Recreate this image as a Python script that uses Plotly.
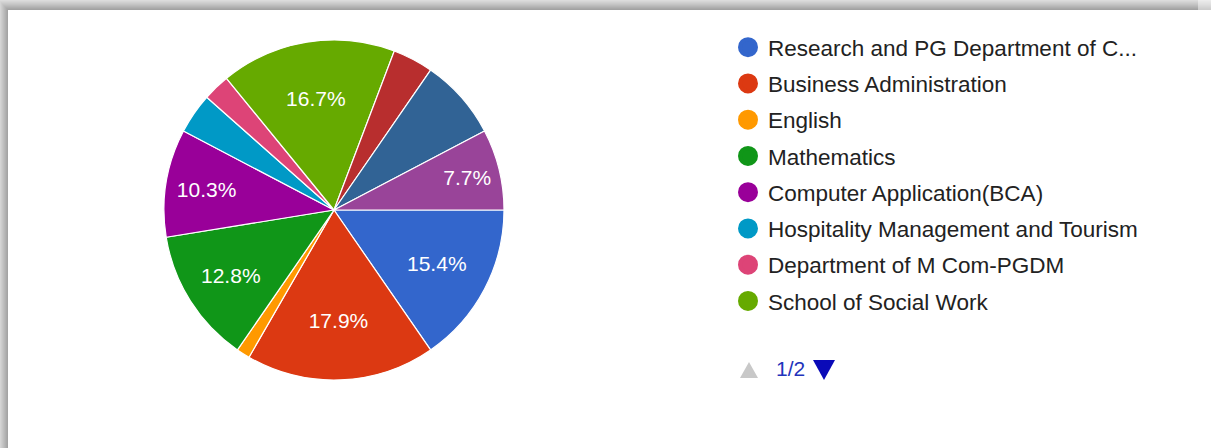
import plotly.graph_objects as go

# ---- data ----
departments = [
    "Research and PG Department of C...",
    "Business Administration",
    "English",
    "Mathematics",
    "Computer Application(BCA)",
    "Hospitality Management and Tourism",
    "Department of M Com-PGDM",
    "School of Social Work",
    "Page 2 item 9",
    "Page 2 item 10",
    "Page 2 item 11",
]
responses = [12, 14, 1, 10, 8, 3, 2, 13, 3, 6, 6]
label_shown = [True, True, False, True, True, False, False, True, False, False, True]
legend_page_count = 8
page_text = "1/2"

colors = ["#3366cc", "#dc3912", "#ff9900", "#109618", "#990099", "#0099c6",
          "#dd4477", "#66aa00", "#b82e2e", "#316395", "#994499"]

W, H = 1211, 448
FONT = "Arial, Liberation Sans, sans-serif"

total = sum(responses)
slice_text = [f"{v / total * 100:.1f}%" if s else "" for v, s in zip(responses, label_shown)]

cx, cy, r = 334, 210, 170

fig = go.Figure()
fig.add_trace(go.Pie(
    labels=departments,
    values=responses,
    text=slice_text,
    textinfo="text",
    textposition="inside",
    insidetextorientation="horizontal",
    textfont=dict(family=FONT, size=21, color="white"),
    marker=dict(colors=colors, line=dict(color="white", width=1.2)),
    sort=False,
    direction="clockwise",
    rotation=90,
    showlegend=False,
    domain=dict(x=[(cx - r) / W, (cx + r) / W],
                y=[(H - cy - r) / H, (H - cy + r) / H]),
))

for i in range(legend_page_count):
    fig.add_trace(go.Scatter(
        x=[None], y=[None], mode="markers", name=departments[i],
        marker=dict(color=colors[i], size=16, symbol="circle",
                    line=dict(color=colors[i], width=4)),
        legendgroup=f"g{i}", showlegend=True,
    ))

def px(x):
    return x / W

def py(y):
    return 1 - y / H

shapes = []
# card shadow, top and left edges
top_grays = ["#dcdcdc", "#d6d6d6", "#d0d0d0", "#cacaca", "#c4c4c4",
             "#bdbdbd", "#b6b6b6", "#afafaf", "#a8a8a8", "#a2a2a2"]
for k, g in enumerate(top_grays):
    shapes.append(dict(type="rect", xref="paper", yref="paper",
                       x0=0, x1=px(1198), y0=py(k + 1), y1=py(k),
                       fillcolor=g, line=dict(width=0), layer="above"))
    shapes.append(dict(type="rect", xref="paper", yref="paper",
                       x0=px(1198), x1=1, y0=py(k + 1), y1=py(k),
                       fillcolor=g, opacity=0.55, line=dict(width=0), layer="above"))
left_grays = ["#d4d4d4", "#cdcdcd", "#c6c6c6", "#bfbfbf", "#b8b8b8",
              "#b1b1b1", "#aaaaaa", "#a4a4a4"]
for k, g in enumerate(left_grays):
    shapes.append(dict(type="rect", xref="paper", yref="paper",
                       x0=px(k), x1=px(k + 1), y0=0, y1=py(k + 2),
                       fillcolor=g, line=dict(width=0), layer="above"))

# legend pager arrows
def tri(points):
    return "M " + " L ".join(f"{px(x)},{py(y)}" for x, y in points) + " Z"

shapes.append(dict(type="path", xref="paper", yref="paper",
                   path=tri([(740, 378), (758, 378), (749, 362)]),
                   fillcolor="#c8c8c8", line=dict(width=0)))
shapes.append(dict(type="path", xref="paper", yref="paper",
                   path=tri([(813, 360), (835, 360), (824, 380)]),
                   fillcolor="#0a0ab8", line=dict(width=0)))

annotations = [
    dict(text=page_text, x=px(790), y=py(368), xref="paper", yref="paper",
         xanchor="center", yanchor="middle",
         showarrow=False, font=dict(family=FONT, size=21, color="#2233bb")),
]

fig.update_layout(
    width=W, height=H,
    margin=dict(l=0, r=0, t=0, b=0),
    paper_bgcolor="white", plot_bgcolor="white",
    xaxis=dict(visible=False), yaxis=dict(visible=False),
    legend=dict(x=px(728), y=py(26), xanchor="left", yanchor="top",
                font=dict(family=FONT, size=22.5, color="#222222"),
                tracegroupgap=4, bgcolor="rgba(0,0,0,0)", borderwidth=0),
    shapes=shapes,
    annotations=annotations,
)

fig.write_html("out.html", config={"displayModeBar": False},
               post_script="document.body.style.margin='0';document.body.style.overflow='hidden';")
